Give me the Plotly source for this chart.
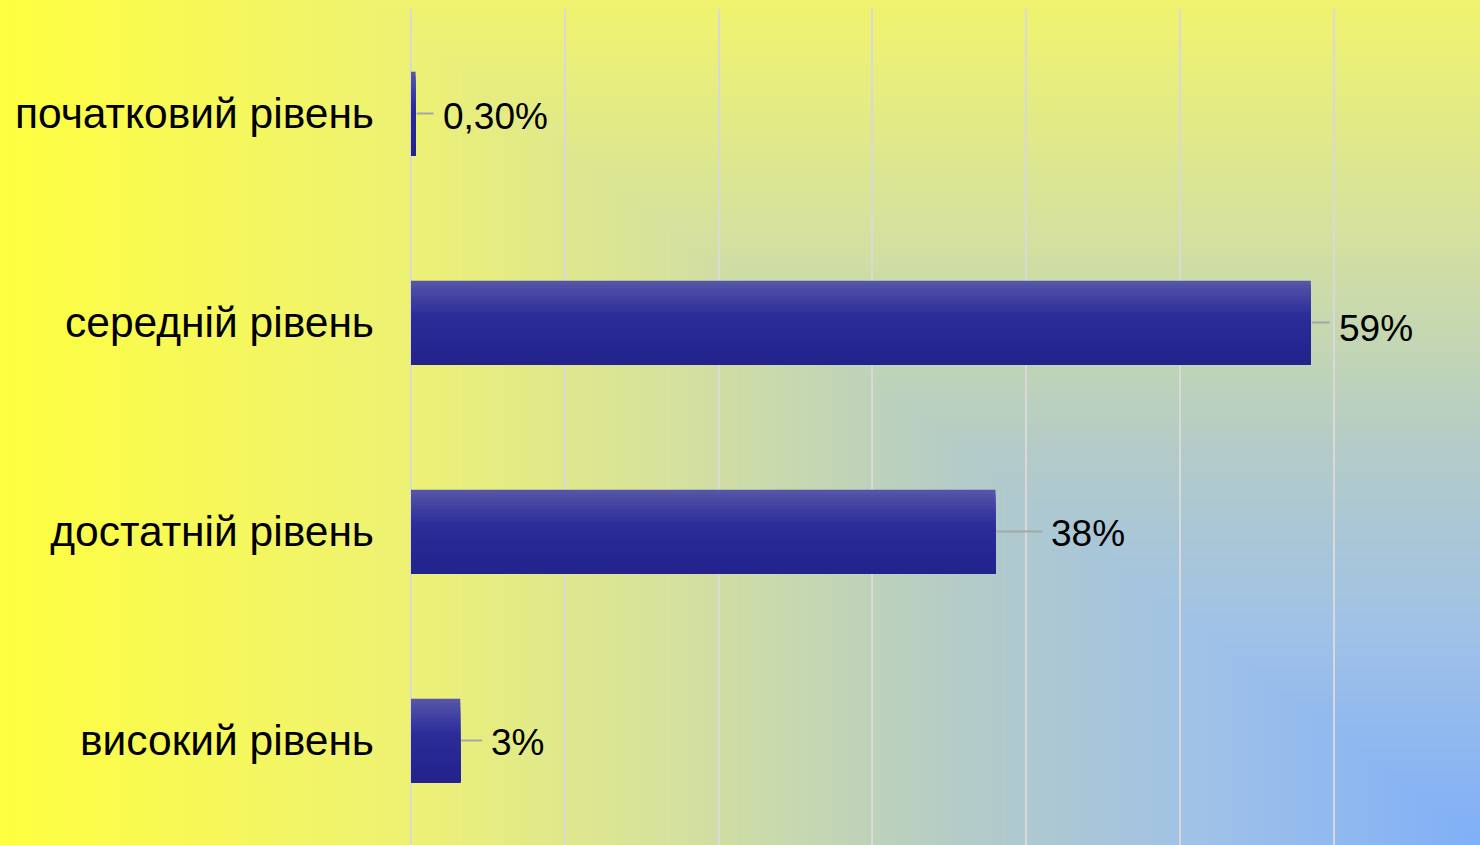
import base64
import struct
import zlib

import numpy as np
import plotly.graph_objects as go

# ---------------- data ----------------
categories = ["початковий рівень", "середній рівень", "достатній рівень", "високий рівень"]
values = [0.3, 58.5, 38, 3.2]
label_texts = ["0,30%", "59%", "38%", "3%"]

# ---------------- style ----------------
W, H = 1480, 845
M_L, M_R, M_T, M_B = 411, 0, 9, 0
X_MAX = 69.5
BAR_W = 0.4
leader_px = [18, 19, 47, 22]     # length of grey leader line per label
label_gap = 7                    # gap between leader end and text
label_dy = [3, 6, 2, 2]          # small vertical nudge (px, downward)


def png_data_uri(arr):
    h, w, _ = arr.shape
    raw = b"".join(b"\x00" + arr[r].tobytes() for r in range(h))

    def chunk(tag, data):
        return (struct.pack(">I", len(data)) + tag + data
                + struct.pack(">I", zlib.crc32(tag + data) & 0xFFFFFFFF))

    png = (b"\x89PNG\r\n\x1a\n"
           + chunk(b"IHDR", struct.pack(">IIBBBBB", w, h, 8, 2, 0, 0, 0))
           + chunk(b"IDAT", zlib.compress(raw, 9))
           + chunk(b"IEND", b""))
    return "data:image/png;base64," + base64.b64encode(png).decode()


# background: corner gradient (blue bottom-right -> yellow)
S = 4
gw, gh = W // S, H // S + 1
xs = (np.arange(gw) + 0.5) * S
ys = (np.arange(gh) + 0.5) * S
XX, YY = np.meshgrid(xs, ys)
t = np.maximum((W - XX) / 1250.0, (H - YY) / 950.0)
stops_t = [0.0, 0.22, 0.416, 0.647, 0.858, 1.18]
stops_c = [(128, 176, 248), (160, 194, 232), (180, 204, 200),
           (214, 226, 158), (238, 242, 116), (255, 255, 64)]
img = np.zeros((gh, gw, 3), dtype=np.uint8)
for ch in range(3):
    img[:, :, ch] = np.clip(np.interp(t, stops_t, [c[ch] for c in stops_c]), 0, 255).astype(np.uint8)
bg_uri = png_data_uri(img)

# bar gradient (top lighter -> navy)
grad_pos = [0.0, 0.4, 1.0]
grad_col = [(84, 84, 168), (44, 44, 154), (34, 34, 140)]
N_STRIPS = 21

fig = go.Figure()
for i in range(N_STRIPS):
    f = i / N_STRIPS
    col = tuple(int(round(np.interp(f, grad_pos, [c[k] for c in grad_col]))) for k in range(3))
    fig.add_trace(go.Bar(
        y=categories, x=values, orientation="h",
        offset=-BAR_W / 2 + f * BAR_W, width=BAR_W * (1 - f),
        marker=dict(color="rgb(%d,%d,%d)" % col, line=dict(width=0)),
        hoverinfo="skip", showlegend=False,
    ))

# leader lines + data labels
for cat, v, txt, lp, dy in zip(categories, values, label_texts, leader_px, label_dy):
    fig.add_shape(type="line", xref="x", yref="y", xsizemode="pixel", xanchor=v,
                  x0=1, x1=lp, y0=cat, y1=cat,
                  line=dict(color="#a6a6a6", width=2), layer="above")
    fig.add_annotation(x=v, y=cat, xref="x", yref="y", text=txt, showarrow=False,
                       xanchor="left", yanchor="middle", xshift=lp + label_gap, yshift=-dy,
                       font=dict(family="Liberation Sans, Arial, sans-serif", size=37, color="#000000"))

fig.add_layout_image(
    source=bg_uri, xref="paper", yref="paper",
    x=-M_L / (W - M_L - M_R), y=1 + M_T / (H - M_T - M_B),
    sizex=W / (W - M_L - M_R), sizey=H / (H - M_T - M_B),
    xanchor="left", yanchor="top", sizing="stretch", layer="below",
)

fig.update_layout(
    width=W, height=H,
    margin=dict(l=M_L, r=M_R, t=M_T, b=M_B, pad=0),
    barmode="overlay",
    paper_bgcolor="rgba(0,0,0,0)", plot_bgcolor="rgba(0,0,0,0)",
    font=dict(family="Liberation Sans, Arial, sans-serif", color="#000000"),
    xaxis=dict(range=[0, X_MAX], dtick=10, showgrid=True, gridcolor="#d9d9d9", gridwidth=2,
               zeroline=True, zerolinecolor="#d9d9d9", zerolinewidth=2,
               showticklabels=False, showline=False, fixedrange=True),
    yaxis=dict(categoryorder="array", categoryarray=categories, autorange="reversed",
               showgrid=False, zeroline=False, showline=False, ticks="",
               ticklabelstandoff=36,
               tickfont=dict(family="Liberation Sans, Arial, sans-serif", size=42.5, color="#000000"),
               fixedrange=True),
)

fig.write_html(
    "out.html",
    config={"displayModeBar": False},
    post_script="document.body.style.margin='0';document.body.style.padding='0';"
                "document.body.style.overflow='hidden';",
)
